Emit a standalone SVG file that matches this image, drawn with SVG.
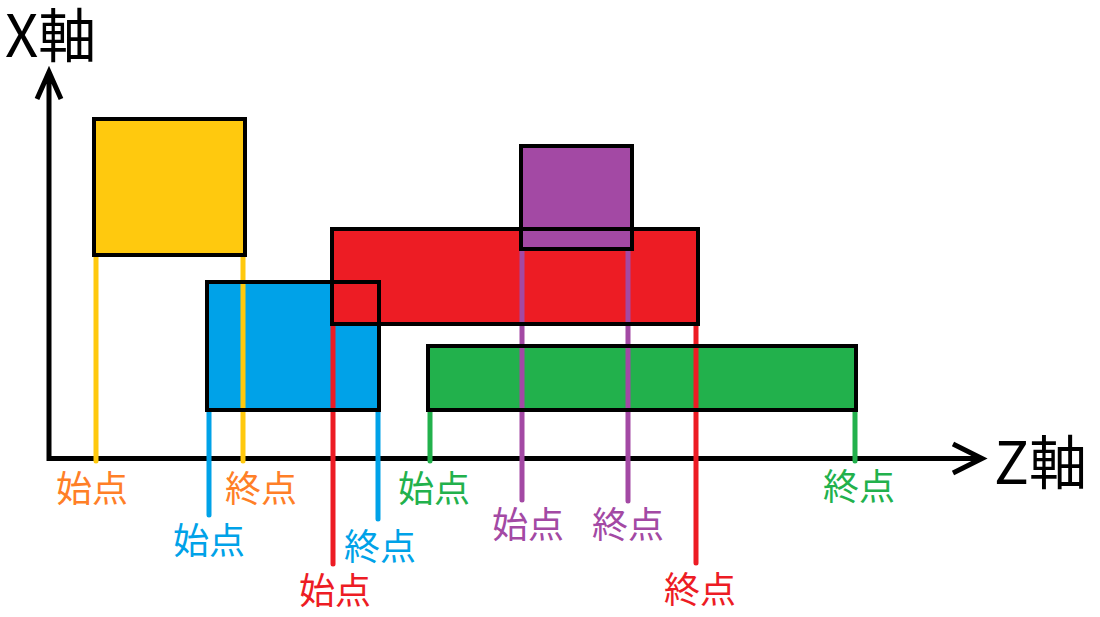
<svg xmlns="http://www.w3.org/2000/svg" width="1100" height="617" viewBox="0 0 1100 617">
<style>
.box{stroke:none}
.border{fill:none;stroke:#000;stroke-width:4}
.axis{fill:none;stroke:#000;stroke-width:5}
.ln{stroke-width:5;stroke-linecap:round;fill:none}
.lbl{font-family:"Noto Sans CJK JP","Noto Sans",sans-serif;font-size:36px;text-anchor:middle}
.ax{font-family:"Noto Sans CJK JP","Noto Sans",sans-serif;font-size:58px;fill:#000}
</style>
<rect width="1100" height="617" fill="#fff"/>
<g id="axes">
<path class="axis" d="M49 461V74M37 99L49 72L61 99"/>
<path class="axis" d="M47 458.5H981M953 444L982 458.5L953 473"/>
<text class="ax" x="5" y="57">X軸</text>
<text class="ax" x="994" y="484">Z軸</text>
</g>
<g id="fills">
<rect class="box" x="94" y="119" width="151" height="136" fill="#FFC90E"/>
<rect class="box" x="207" y="282" width="172" height="128" fill="#00A2E8"/>
<rect class="box" x="332" y="229" width="366" height="95" fill="#ED1C24"/>
<rect class="box" x="428" y="346" width="428" height="64" fill="#22B14C"/>
<rect class="box" x="521" y="146" width="111" height="103" fill="#A349A4"/>
</g>
<g id="connectors">
<line class="ln" stroke="#FFC90E" x1="96" y1="255" x2="96" y2="461"/>
<line class="ln" stroke="#FFC90E" x1="243" y1="255" x2="243" y2="461"/>
<line class="ln" stroke="#00A2E8" x1="209" y1="410" x2="209" y2="515"/>
<line class="ln" stroke="#00A2E8" x1="378" y1="410" x2="378" y2="519"/>
<line class="ln" stroke="#ED1C24" x1="333" y1="324" x2="333" y2="564"/>
<line class="ln" stroke="#ED1C24" x1="696" y1="324" x2="696" y2="563"/>
<line class="ln" stroke="#22B14C" x1="430" y1="410" x2="430" y2="461"/>
<line class="ln" stroke="#22B14C" x1="855" y1="410" x2="855" y2="461"/>
<line class="ln" stroke="#A349A4" x1="522" y1="249" x2="522" y2="500"/>
<line class="ln" stroke="#A349A4" x1="628" y1="249" x2="628" y2="501"/>
</g>
<g id="yellow-node"><rect class="border" x="94" y="119" width="151" height="136"/></g>
<g id="blue-node"><rect class="border" x="207" y="282" width="172" height="128"/></g>
<g id="red-node"><rect class="border" x="332" y="229" width="366" height="95"/></g>
<g id="green-node"><rect class="border" x="428" y="346" width="428" height="64"/></g>
<g id="purple-node"><rect class="border" x="521" y="146" width="111" height="103"/></g>
<g id="labels">
<text class="lbl" fill="#FF7F27" x="92" y="502">始点</text>
<text class="lbl" fill="#FF7F27" x="261" y="502">終点</text>
<text class="lbl" fill="#00A2E8" x="209" y="554">始点</text>
<text class="lbl" fill="#00A2E8" x="380" y="560">終点</text>
<text class="lbl" fill="#ED1C24" x="335" y="604">始点</text>
<text class="lbl" fill="#ED1C24" x="700" y="603">終点</text>
<text class="lbl" fill="#22B14C" x="434" y="502">始点</text>
<text class="lbl" fill="#22B14C" x="859" y="500">終点</text>
<text class="lbl" fill="#A349A4" x="528" y="538">始点</text>
<text class="lbl" fill="#A349A4" x="628" y="538">終点</text>
</g>
</svg>
